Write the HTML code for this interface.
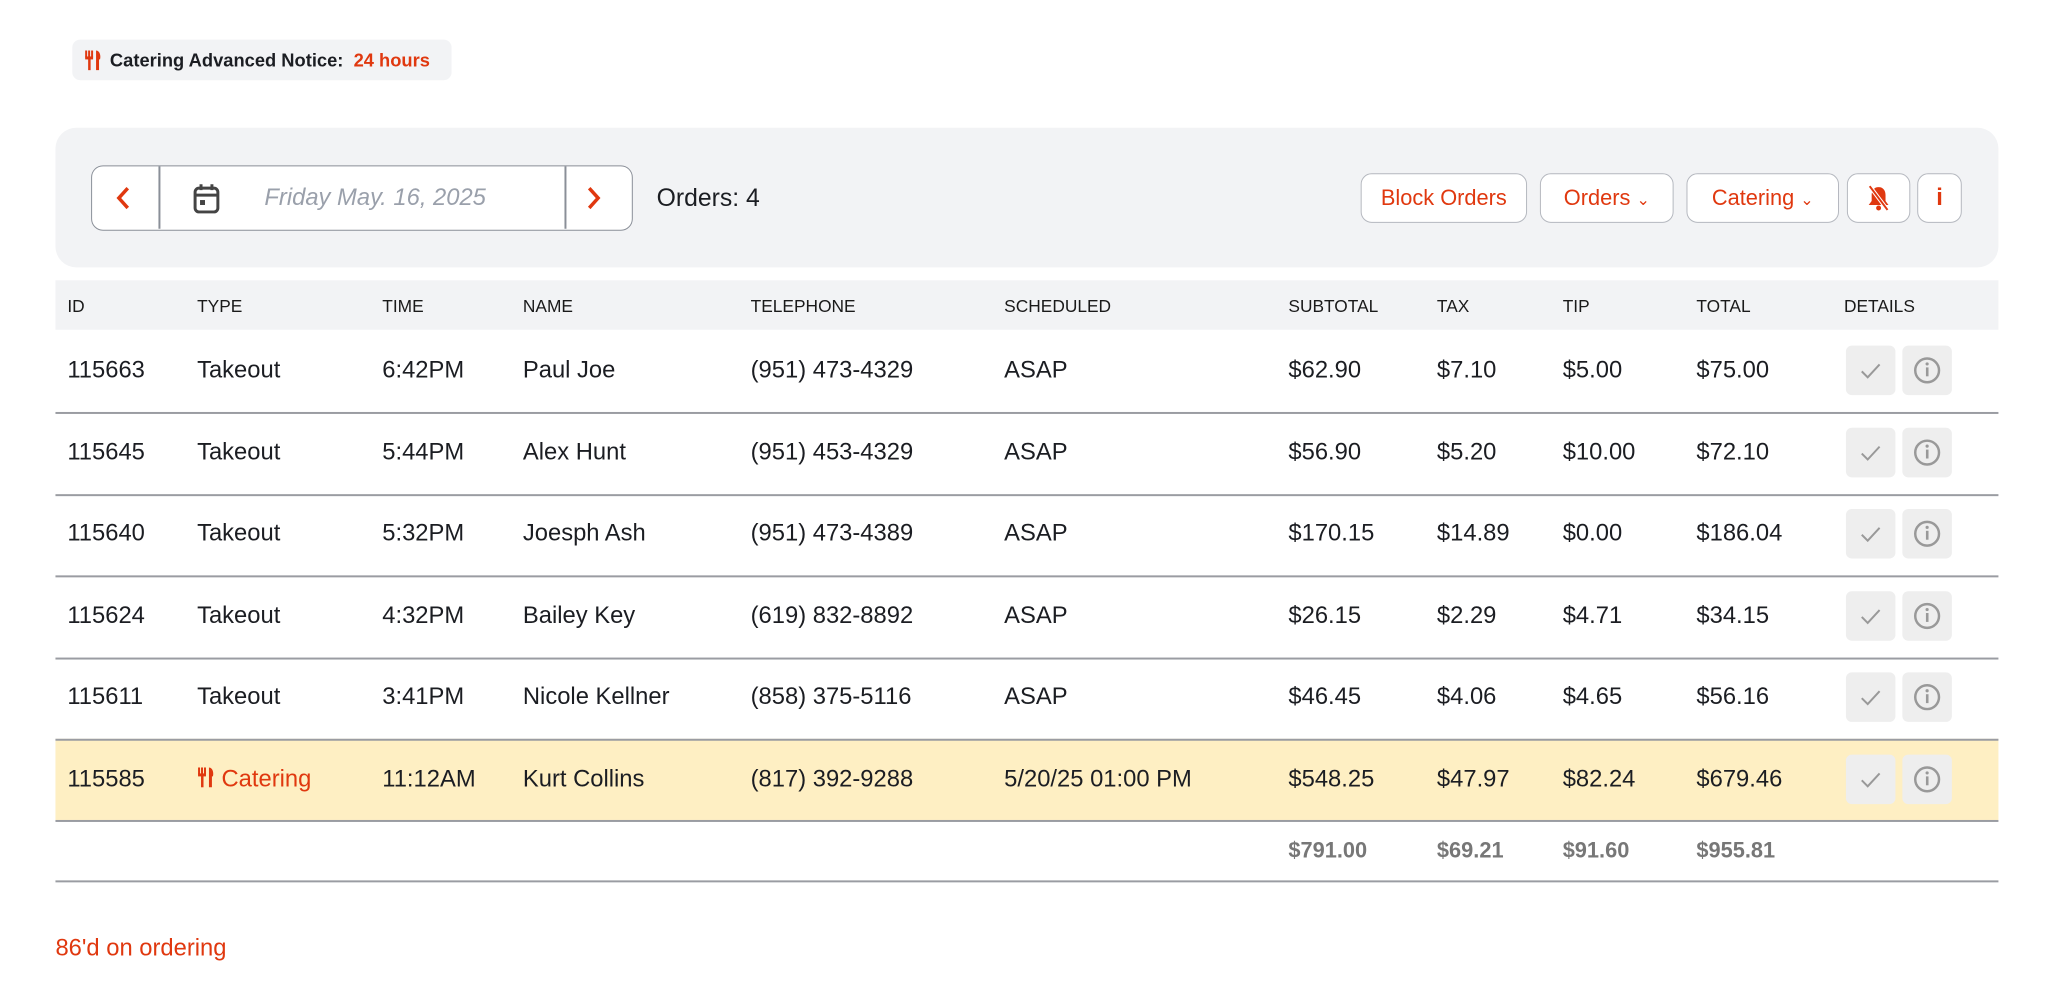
<!DOCTYPE html>
<html><head><meta charset="utf-8"><style>
*{box-sizing:border-box;margin:0;padding:0}
body{width:2072px;height:998px;background:#fff;font-family:"Liberation Sans",sans-serif;position:relative;overflow:hidden;color:#1b1d22}
#w{position:absolute;left:0;top:0;width:2100px;height:1010px;transform:scale(0.9903);transform-origin:0 0}
.a{position:absolute}
.red{color:#e0380f}
.badge{left:73px;top:40px;width:383px;height:41px;background:#f2f3f5;border-radius:8px;font-size:18.5px;font-weight:bold;line-height:41px;padding-left:38px}
.panel{left:56px;top:129px;width:1962px;height:141px;background:#f2f3f5;border-radius:21px}
.date{left:92px;top:167px;width:547px;height:66px;background:#fff;border:1.5px solid #8a8f98;border-radius:12px}
.btn{top:175px;height:50px;background:#fff;border:1.5px solid #b5b8bf;border-radius:11px;color:#e0380f;font-size:22px;line-height:47px;text-align:center}
.hdr{left:56px;top:283px;width:1962px;height:50px;background:#f2f3f5}
.h{font-size:17.5px;top:299px;color:#1a1a1a}
.c{font-size:24px}
.line{left:56px;width:1962px;height:1.5px;background:#9a9ca2}
.db{width:50px;height:50px;background:#eeeeee;border-radius:6px}
.tot{font-size:22px;font-weight:bold;color:#777;top:846px}
</style></head><body><div id="w">
<div class="a badge"><svg class="a" style="left:12px;top:11px" width="18" height="20" viewBox="0 0 18 20"><g fill="#e0380f"><rect x="1" y="0" width="2" height="7"/><rect x="4" y="0" width="2" height="7"/><rect x="7" y="0" width="2" height="7"/><rect x="1" y="6" width="8" height="3"/><rect x="4" y="8" width="2.5" height="12"/><path d="M12 0c4 0 5 6 4 9h-1v11h-3z"/></g></svg>Catering Advanced Notice:&nbsp;&nbsp;<span class="red">24 hours</span></div>
<div class="a panel"></div>
<div class="a date">
<div class="a" style="left:67px;top:0;width:1.5px;height:63px;background:#8a8f98"></div>
<div class="a" style="left:477px;top:0;width:1.5px;height:63px;background:#8a8f98"></div>
<svg class="a" style="left:22px;top:20px" width="20" height="24"><path d="M14 2L5 12l9 10" stroke="#e0380f" stroke-width="3.5" fill="none"/></svg>
<svg class="a" style="left:497px;top:20px" width="20" height="24"><path d="M5 2l9 10-9 10" stroke="#e0380f" stroke-width="3.5" fill="none"/></svg>
<svg class="a" style="left:101px;top:17px" width="30" height="32"><rect x="3" y="5" width="23" height="24" rx="4" stroke="#444" stroke-width="3" fill="none"/><line x1="3" y1="12" x2="26" y2="12" stroke="#444" stroke-width="3"/><line x1="9" y1="1" x2="9" y2="7" stroke="#444" stroke-width="3"/><line x1="20" y1="1" x2="20" y2="7" stroke="#444" stroke-width="3"/><rect x="8" y="17" width="5" height="5" fill="#444"/></svg>
<div class="a" style="left:174px;top:18px;font-size:24px;font-style:italic;color:#9aa0ab">Friday May. 16, 2025</div>
</div>
<div class="a" style="left:663px;top:186px;font-size:25px">Orders: 4</div>
<div class="a btn" style="left:1374px;width:168px">Block Orders</div>
<div class="a btn" style="left:1555px;width:135px">Orders <span style="font-size:16px">&#8964;</span></div>
<div class="a btn" style="left:1703px;width:154px">Catering <span style="font-size:16px">&#8964;</span></div>
<div class="a btn" style="left:1865px;width:64px"><svg width="26" height="28" viewBox="0 0 26 28" style="margin-top:10px"><path d="M13 3c-5 0-7 4-7 8v6l-3 4h20l-3-4v-6c0-4-2-8-7-8z" fill="#e0380f"/><circle cx="13" cy="24" r="2.5" fill="#e0380f"/><line x1="4" y1="2" x2="22" y2="26" stroke="#fff" stroke-width="4"/><line x1="4" y1="2" x2="22" y2="26" stroke="#e0380f" stroke-width="2"/></svg></div>
<div class="a btn" style="left:1936px;width:45px;font-weight:bold;font-size:24px">i</div>
<div class="a hdr"></div>
<div class="a h" style="left:68px">ID</div><div class="a h" style="left:199px">TYPE</div><div class="a h" style="left:386px">TIME</div><div class="a h" style="left:528px">NAME</div><div class="a h" style="left:758px">TELEPHONE</div><div class="a h" style="left:1014px">SCHEDULED</div><div class="a h" style="left:1301px">SUBTOTAL</div><div class="a h" style="left:1451px">TAX</div><div class="a h" style="left:1578px">TIP</div><div class="a h" style="left:1713px">TOTAL</div><div class="a h" style="left:1862px">DETAILS</div>
<div class="a" style="left:56px;top:746px;width:1962px;height:82px;background:#feefc3"></div>
<div id="rows"></div>
<div class="a line" style="top:416px"></div><div class="a line" style="top:499px"></div><div class="a line" style="top:581px"></div><div class="a line" style="top:664px"></div><div class="a line" style="top:746px"></div><div class="a line" style="top:828px"></div><div class="a line" style="top:889px"></div>
<div class="a tot" style="left:1301px">$791.00</div><div class="a tot" style="left:1451px">$69.21</div><div class="a tot" style="left:1578px">$91.60</div><div class="a tot" style="left:1713px">$955.81</div>
<div class="a red" style="left:56px;top:944px;font-size:24px">86'd on ordering</div>
</div>
<script>
var d=[["115663","Takeout","6:42PM","Paul Joe","(951) 473-4329","ASAP","$62.90","$7.10","$5.00","$75.00"],
["115645","Takeout","5:44PM","Alex Hunt","(951) 453-4329","ASAP","$56.90","$5.20","$10.00","$72.10"],
["115640","Takeout","5:32PM","Joesph Ash","(951) 473-4389","ASAP","$170.15","$14.89","$0.00","$186.04"],
["115624","Takeout","4:32PM","Bailey Key","(619) 832-8892","ASAP","$26.15","$2.29","$4.71","$34.15"],
["115611","Takeout","3:41PM","Nicole Kellner","(858) 375-5116","ASAP","$46.45","$4.06","$4.65","$56.16"],
["115585","Catering","11:12AM","Kurt Collins","(817) 392-9288","5/20/25 01:00 PM","$548.25","$47.97","$82.24","$679.46"]];
var xs=[68,199,386,528,758,1014,1301,1451,1578,1713],h="";
d.forEach(function(r,i){var y=333+i*82.6;r.forEach(function(v,j){
var s=v;if(v=="Catering")s='<span class="red"><svg width="18" height="22" viewBox="0 0 18 20" style="vertical-align:-2px"><g fill="#e0380f"><rect x="1" y="0" width="2" height="7"/><rect x="4" y="0" width="2" height="7"/><rect x="7" y="0" width="2" height="7"/><rect x="1" y="6" width="8" height="3"/><rect x="4" y="8" width="2.5" height="12"/><path d="M12 0c4 0 5 6 4 9h-1v11h-3z"/></g></svg> Catering</span>';
h+='<div class="a c" style="left:'+xs[j]+'px;top:'+(y+27)+'px">'+s+'</div>';});
h+='<div class="a db" style="left:1864px;top:'+(y+16)+'px"><svg width="50" height="50"><path d="M16 26l6 6 12-13" stroke="#999" stroke-width="2" fill="none"/></svg></div>';
h+='<div class="a db" style="left:1921px;top:'+(y+16)+'px"><svg width="50" height="50"><circle cx="25" cy="25" r="12" stroke="#999" stroke-width="2.5" fill="none"/><rect x="23.8" y="22" width="2.6" height="9" fill="#999"/><circle cx="25" cy="18.5" r="1.6" fill="#999"/></svg></div>';});
document.getElementById("rows").innerHTML=h;
</script>
</body></html>
